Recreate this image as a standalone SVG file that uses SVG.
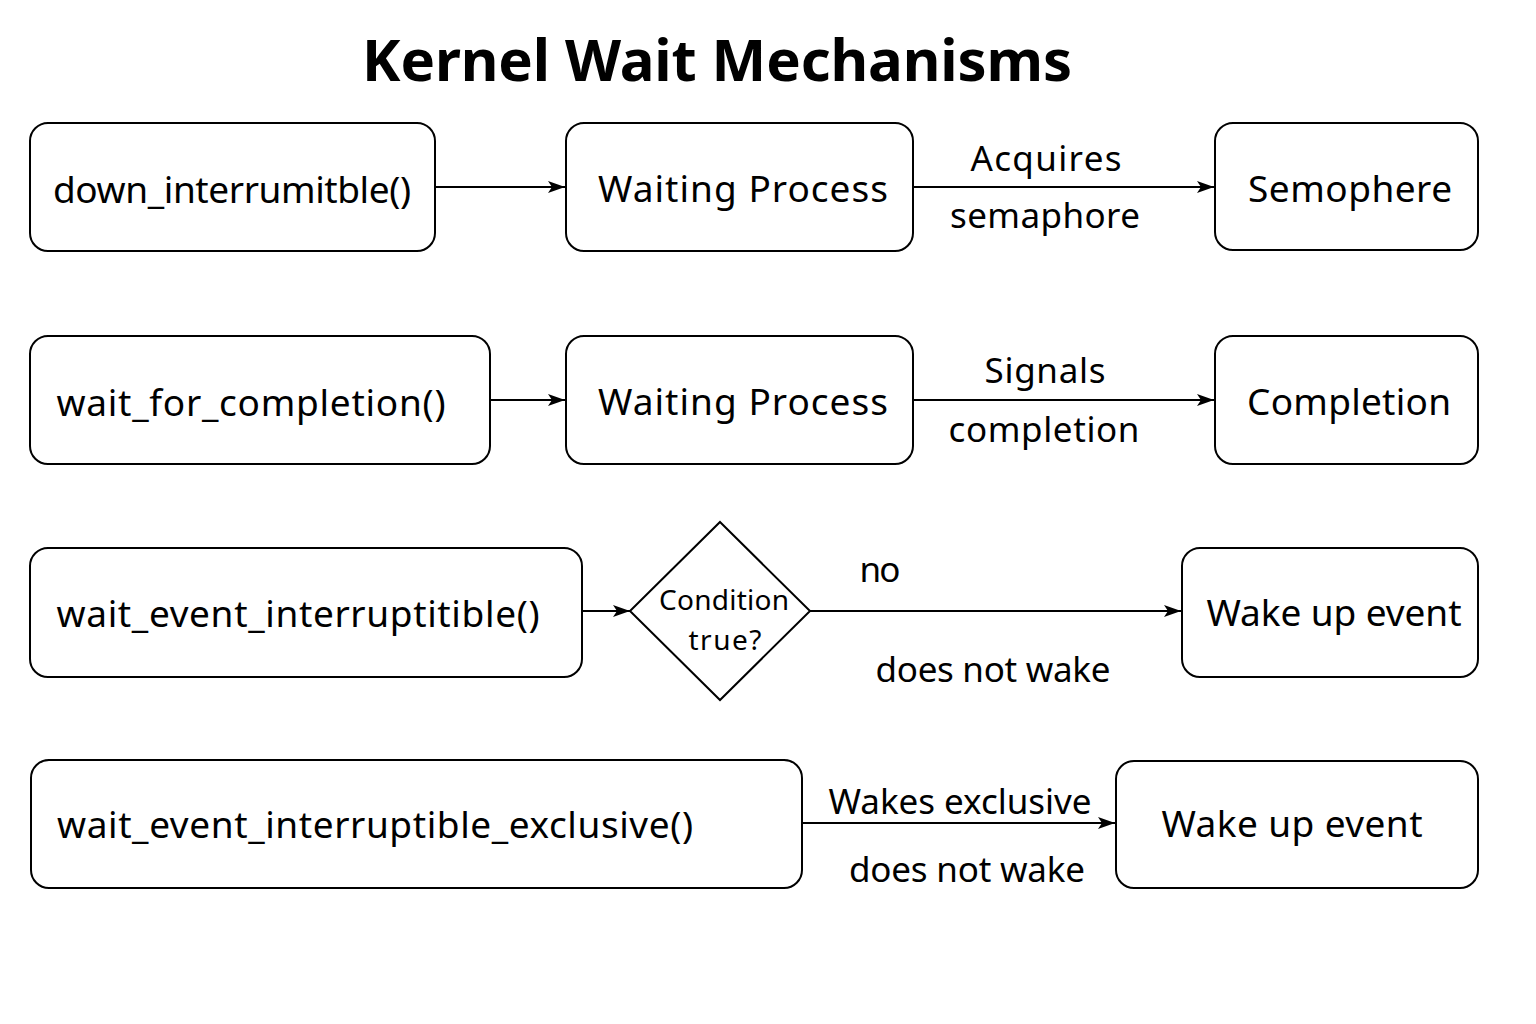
<svg xmlns="http://www.w3.org/2000/svg" width="1536" height="1024" viewBox="0 0 1536 1024">
<style>
.box{fill:#fff;stroke:#000;stroke-width:2}
.t{font-family:"Noto Sans","Open Sans",sans-serif;font-size:37px;fill:#000;text-anchor:middle;dominant-baseline:central}
.l{font-family:"Noto Sans","Open Sans",sans-serif;font-size:35px;fill:#000;text-anchor:middle;dominant-baseline:central}
.c{stroke:#000;stroke-width:2;fill:none;marker-end:url(#ah)}
</style>
<defs>
<marker id="ah" markerWidth="17" markerHeight="12" refX="17" refY="6" orient="auto" markerUnits="userSpaceOnUse">
<path d="M0,0 L17,6 L0,12 L4,6 Z" fill="#000"/>
</marker>
</defs>
<rect width="1536" height="1024" fill="#fff"/>
<text x="717" y="58" font-family="Noto Sans, Open Sans, sans-serif" font-size="58" font-weight="bold" text-anchor="middle" dominant-baseline="central" textLength="710">Kernel Wait Mechanisms</text>

<g id="connectors">
<line class="c" x1="436" y1="187" x2="565" y2="187"/>
<line class="c" x1="914" y1="187" x2="1214" y2="187"/>
<line class="c" x1="491" y1="400" x2="565" y2="400"/>
<line class="c" x1="914" y1="400" x2="1214" y2="400"/>
<line class="c" x1="583" y1="611" x2="630" y2="611"/>
<line class="c" x1="810" y1="611" x2="1181" y2="611"/>
<line class="c" x1="803" y1="823" x2="1115" y2="823"/>
<text class="l" x="1046" y="157" textLength="151">Acquires</text>
<text class="l" x="1045" y="214" textLength="190">semaphore</text>
<text class="l" x="1045" y="369" textLength="121">Signals</text>
<text class="l" x="1044" y="428" textLength="191">completion</text>
<text class="l" x="880" y="568" textLength="41">no</text>
<text class="l" x="993" y="668" textLength="235">does not wake</text>
<text class="l" x="960" y="800" textLength="263">Wakes exclusive</text>
<text class="l" x="967" y="868" textLength="236">does not wake</text>
</g>

<g id="n1"><rect class="box" x="30" y="123" width="405" height="128" rx="18"/><text class="t" x="232" y="188" textLength="358">down_interrumitble()</text></g>
<g id="n2"><rect class="box" x="566" y="123" width="347" height="128" rx="18"/><text class="t" x="743" y="187" textLength="290">Waiting Process</text></g>
<g id="n3"><rect class="box" x="1215" y="123" width="263" height="127" rx="18"/><text class="t" x="1350" y="187" textLength="204">Semophere</text></g>

<g id="n4"><rect class="box" x="30" y="336" width="460" height="128" rx="18"/><text class="t" x="251" y="401" textLength="389">wait_for_completion()</text></g>
<g id="n5"><rect class="box" x="566" y="336" width="347" height="128" rx="18"/><text class="t" x="743" y="400" textLength="290">Waiting Process</text></g>
<g id="n6"><rect class="box" x="1215" y="336" width="263" height="128" rx="18"/><text class="t" x="1349" y="400" textLength="204">Completion</text></g>

<g id="n7"><rect class="box" x="30" y="548" width="552" height="129" rx="18"/><text class="t" x="298" y="612" textLength="483">wait_event_interruptitible()</text></g>
<g id="n8"><polygon class="box" points="720,522 810,611 720,700 630,611"/><text class="t" style="font-size:28px" x="724" y="599" textLength="130">Condition</text><text class="t" style="font-size:28px" x="725" y="639" textLength="73">true?</text></g>
<g id="n9"><rect class="box" x="1182" y="548" width="296" height="129" rx="18"/><text class="t" x="1334" y="611" textLength="255">Wake up event</text></g>

<g id="n10"><rect class="box" x="31" y="760" width="771" height="128" rx="18"/><text class="t" x="375" y="823" textLength="636">wait_event_interruptible_exclusive()</text></g>
<g id="n11"><rect class="box" x="1116" y="761" width="362" height="127" rx="18"/><text class="t" x="1292" y="822" textLength="261">Wake up event</text></g>
</svg>
